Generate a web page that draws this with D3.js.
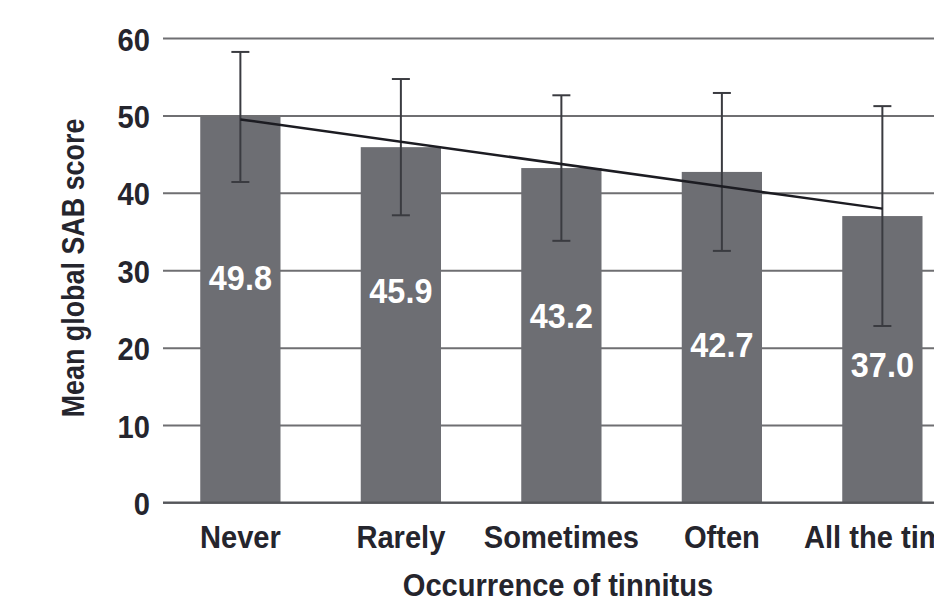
<!DOCTYPE html>
<html>
<head>
<meta charset="utf-8">
<script src="https://cdn.jsdelivr.net/npm/d3@7"></script>
<style>
  html, body { margin: 0; padding: 0; background: #ffffff; }
  svg { display: block; overflow: hidden; }
  text { font-family: "Liberation Sans", Arial, sans-serif; fill: #25252d; }
</style>
</head>
<body>
<svg id="chart" width="934" height="601"></svg>
<script>
// Occurrence of tinnitus vs. mean global SAB score
const categories = ["Never", "Rarely", "Sometimes", "Often", "All the time"];
const means = [49.8, 45.9, 43.2, 42.7, 37.0];
const sds = [8.4, 8.8, 9.4, 10.2, 14.2];
const yTicks = [0, 10, 20, 30, 40, 50, 60];
const yTitle = "Mean global SAB score";
const xTitle = "Occurrence of tinnitus";

const svg = d3.select("#chart");

// scales
const x = d3.scaleBand().domain(categories).range([120, 1002.75]).padding(0.5);
const y = d3.scaleLinear().domain([0, 60]).range([502.5, 38]);

const condense = 0.91; // horizontal squeeze for the narrow typeface

// gridlines + tick labels via a left axis
const yAxis = d3.axisLeft(y).tickValues(yTicks).tickSize(0).tickPadding(0);
const gAxis = svg.append("g").attr("transform", "translate(163,0)").call(yAxis);
gAxis.select(".domain").remove();
gAxis.selectAll(".tick line")
  .attr("x2", 934 - 163)
  .attr("stroke", "#6f6f72")
  .attr("stroke-width", 2);
gAxis.selectAll(".tick text")
  .attr("x", 0).attr("dy", null)
  .attr("text-anchor", "end")
  .attr("font-size", 32).attr("font-weight", 700)
  .style("font-family", "'Liberation Sans', Arial, sans-serif")
  .attr("fill", "#25252d")
  .attr("transform", "translate(-13,12) scale(" + condense + ",1)");

// bars
svg.append("g").selectAll("rect")
  .data(means)
  .join("rect")
  .attr("x", (d, i) => x(categories[i]))
  .attr("y", d => y(d))
  .attr("width", x.bandwidth())
  .attr("height", d => y(0) - y(d))
  .attr("fill", "#6d6e73");

// baseline drawn over bars
svg.append("line")
  .attr("x1", 163).attr("x2", 934)
  .attr("y1", y(0)).attr("y2", y(0))
  .attr("stroke", "#55565a").attr("stroke-width", 2);

// error bars (mean ± SD)
const cap = 9;
const gErr = svg.append("g").attr("stroke", "#3a3b40").attr("stroke-width", 2).attr("fill", "none");
means.forEach((m, i) => {
  const cx = x(categories[i]) + x.bandwidth() / 2;
  const hi = y(m + sds[i]), lo = y(m - sds[i]);
  gErr.append("line").attr("x1", cx).attr("x2", cx).attr("y1", hi).attr("y2", lo);
  gErr.append("line").attr("x1", cx - cap).attr("x2", cx + cap).attr("y1", hi).attr("y2", hi);
  gErr.append("line").attr("x1", cx - cap).attr("x2", cx + cap).attr("y1", lo).attr("y2", lo);
});

// linear trend line through the means (least squares)
const n = means.length;
const xs = d3.range(n);
const mx = d3.mean(xs), my = d3.mean(means);
const slope = d3.sum(xs, k => (k - mx) * (means[k] - my)) / d3.sum(xs, k => (k - mx) * (k - mx));
const icpt = my - slope * mx;
const trend = [0, n - 1].map(k => [x(categories[k]) + x.bandwidth() / 2, y(icpt + slope * k)]);
svg.append("path")
  .attr("d", d3.line()(trend))
  .attr("stroke", "#1c1c22").attr("stroke-width", 2.5).attr("fill", "none");

// value labels inside bars (baseline given in score units)
const labelBase = [27.4, 25.8, 22.5, 18.8, 16.2];
svg.append("g").selectAll("text")
  .data(means)
  .join("text")
  .attr("transform", (d, i) =>
    "translate(" + (x(categories[i]) + x.bandwidth() / 2) + "," + y(labelBase[i]) + ") scale(0.9,1)")
  .attr("text-anchor", "middle")
  .attr("font-size", 36).attr("font-weight", 700)
  .style("fill", "#ffffff")
  .text(d => d.toFixed(1));

// category labels
svg.append("g").selectAll("text")
  .data(categories)
  .join("text")
  .attr("transform", d => "translate(" + (x(d) + x.bandwidth() / 2) + ",548) scale(" + condense + ",1)")
  .attr("text-anchor", "middle")
  .attr("font-size", 32).attr("font-weight", 700)
  .text(d => d);

// axis titles
svg.append("text")
  .attr("transform", "translate(558,596) scale(" + condense + ",1)")
  .attr("text-anchor", "middle")
  .attr("font-size", 32).attr("font-weight", 700)
  .text(xTitle);

svg.append("text")
  .attr("transform", "translate(84,268) rotate(-90) scale(0.84,1)")
  .attr("text-anchor", "middle")
  .attr("font-size", 32).attr("font-weight", 700)
  .text(yTitle);
</script>
</body>
</html>
